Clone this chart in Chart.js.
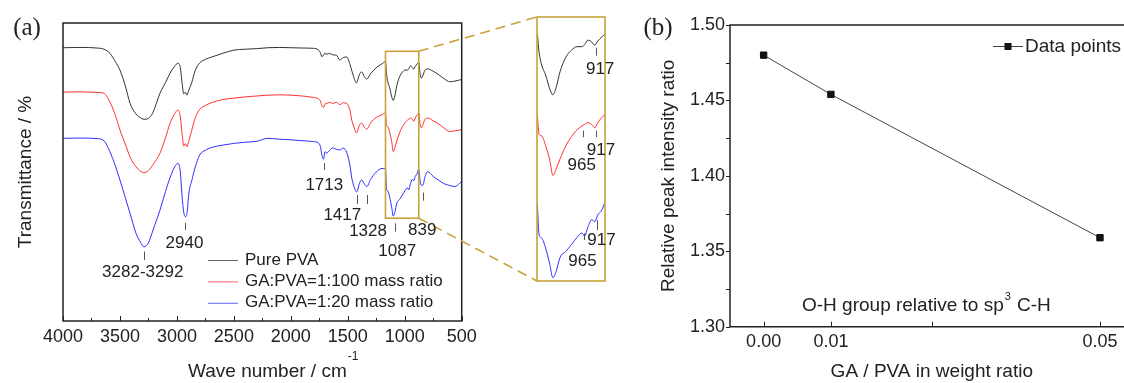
<!DOCTYPE html>
<html>
<head>
<meta charset="utf-8">
<script src="https://cdn.jsdelivr.net/npm/chart.js@4.4.0/dist/chart.umd.min.js"></script>
<style>
html, body { margin: 0; padding: 0; background: #fff; overflow: hidden; width: 1124px; height: 383px; }
canvas { position: absolute; }
#ftir { left: 0; top: 0; }
#zoom { left: 535px; top: 10px; }
#ratio { left: 620px; top: 0; }
</style>
</head>
<body>
<canvas id="ftir" width="620" height="383"></canvas>
<canvas id="zoom" width="92" height="280"></canvas>
<canvas id="ratio" width="520" height="383"></canvas>
<script>
// FTIR spectra (wave number in cm-1, transmittance in arbitrary %, curves offset)
var wavenumber = [4000, 3850, 3700, 3640, 3588, 3540, 3500, 3450, 3412, 3360,
	3320, 3290, 3250, 3210, 3149, 3100, 3061, 3020, 2991, 2970,
	2955, 2940, 2925, 2912, 2895, 2870, 2840, 2800, 2750, 2700,
	2600, 2500, 2400, 2300, 2200, 2100, 2000, 1900, 1800, 1760,
	1740, 1728, 1713, 1700, 1684, 1660, 1632, 1600, 1570, 1540,
	1509, 1480, 1465, 1440, 1425, 1417, 1400, 1377, 1355, 1333,
	1300, 1250, 1200, 1169, 1160, 1149, 1132, 1114, 1101, 1087,
	1070, 1045, 1020, 998, 976, 965, 950, 934, 921, 908,
	890, 877, 865, 853, 839, 825, 798, 750, 700, 650,
	605, 560, 518, 500];

var pureT = [91.7, 91.8, 91.6, 91.2, 89.8, 87.0, 84.2, 78.5, 73.1, 69.5,
	68.2, 67.7, 68.0, 70.0, 76.4, 80.0, 83.1, 85.5, 86.5, 85.0,
	80.0, 76.2, 76.8, 75.8, 77.5, 80.0, 84.0, 86.6, 87.8, 88.5,
	89.8, 90.9, 91.2, 91.4, 91.7, 91.8, 91.7, 91.6, 91.5, 91.0,
	90.0, 88.7, 89.2, 89.9, 89.5, 89.8, 89.3, 89.2, 87.6, 88.4,
	88.6, 86.0, 84.0, 81.0, 79.9, 80.3, 82.5, 83.6, 82.0, 81.2,
	83.0, 85.0, 86.3, 87.0, 83.0, 80.3, 78.2, 75.2, 74.0, 75.5,
	78.9, 82.0, 83.5, 84.2, 84.2, 84.6, 85.6, 85.2, 84.5, 85.4,
	86.3, 86.8, 83.0, 81.5, 82.5, 84.0, 84.6, 83.8, 82.6, 81.2,
	80.3, 80.5, 80.9, 81.0];

var ga100T = [76.8, 76.9, 76.7, 76.4, 73.5, 69.0, 64.1, 59.0, 55.1, 51.8,
	50.3, 49.8, 50.5, 52.5, 56.3, 61.5, 66.3, 69.5, 70.8, 68.5,
	63.0, 58.7, 59.5, 58.5, 60.5, 64.0, 68.0, 71.0, 72.3, 73.2,
	74.3, 74.8, 75.2, 75.5, 75.8, 75.9, 75.8, 75.5, 75.0, 74.6,
	73.8, 72.3, 71.7, 72.8, 73.0, 73.4, 73.0, 73.4, 72.6, 73.2,
	73.0, 70.5, 67.4, 64.5, 63.1, 63.4, 65.5, 66.4, 65.0, 64.4,
	66.5, 68.3, 69.2, 69.8, 65.6, 65.3, 63.2, 60.1, 56.9, 58.2,
	60.4, 63.2, 65.2, 66.5, 67.4, 67.7, 68.1, 67.7, 67.0, 68.1,
	69.2, 69.8, 66.0, 64.8, 66.0, 67.5, 68.1, 67.2, 66.1, 64.6,
	63.6, 63.8, 64.1, 64.3];

var ga20T = [61.3, 61.4, 61.2, 60.5, 56.8, 52.0, 47.3, 41.0, 36.2, 29.5,
	26.5, 24.9, 26.2, 30.5, 37.2, 43.5, 48.0, 51.7, 52.9, 50.0,
	42.0, 36.5, 35.0, 36.1, 42.9, 47.0, 51.5, 55.7, 57.3, 58.2,
	59.0, 59.6, 60.0, 60.3, 61.3, 61.0, 60.8, 60.5, 60.2, 59.8,
	58.5, 55.8, 54.3, 56.8, 56.4, 57.2, 58.1, 57.6, 57.4, 58.0,
	56.5, 52.0, 48.0, 44.5, 43.4, 43.5, 46.0, 47.3, 46.0, 45.1,
	47.5, 50.0, 51.2, 51.0, 44.3, 43.6, 41.5, 38.0, 35.2, 36.5,
	39.5, 40.8, 42.3, 43.7, 44.7, 44.0, 46.0, 47.5, 47.1, 48.5,
	49.6, 51.0, 47.0, 45.5, 45.6, 48.0, 50.1, 48.5, 47.2, 46.0,
	45.5, 45.1, 46.2, 46.8];

var seriesNames = ['Pure PVA', 'GA:PVA=1:100 mass ratio', 'GA:PVA=1:20 mass ratio'];
var waveTicks = [4000, 3750, 3500, 3250, 3000, 2750, 2500, 2250, 2000, 1750, 1500, 1250, 1000, 750, 500];

// zoomed window (cm-1 and transmittance)
var zoomWn = [877, 1169];
var zoomT = [34.5, 90.5];

// panel (b)
var gaRatio = [0, 0.01, 0.05];
var peakRatio = [1.480, 1.454, 1.359];
var ratioTicks = [0, 0.01, 0.025, 0.05];
var ratioTickLabels = ['0.00', '0.01', '', '0.05'];

// peak notes: tick from/to in transmittance, label position [wn, T]
var peakNotes = [
	{text: '3282-3292', wn: 3287, tick: [23.3, 20.5], at: [3300, 16.5]},
	{text: '2940', wn: 2930, tick: [33.0, 30.5], at: [2934, 26.1]},
	{text: '1713', wn: 1711, tick: [53.0, 50.7], at: [1706, 45.6]},
	{text: '1417', wn: 1418, tick: [42.3, 39.3], at: [1548, 35.6]},
	{text: '1328', wn: 1327, tick: [42.3, 39.3], at: [1322, 30.0]},
	{text: '1087', wn: 1082, tick: [32.8, 30.0], at: [1066, 23.3]},
	{text: '839', wn: 839, tick: [43.1, 40.4], at: [846, 30.5]}
];
var zoomNotes = [
	{text: '917', wn: 916, tick: [84.0, 82.3], at: [898, 79.5]},
	{text: '917', wn: 916, tick: [66.4, 65.0], at: [894, 62.2]},
	{text: '965', wn: 970, tick: [66.4, 65.0], at: [977, 59.0]},
	{text: '917', wn: 913, tick: [47.4, 45.3], at: [892, 43.2]},
	{text: '965', wn: 967, tick: [44.6, 43.2], at: [974, 38.6]}
];

var curveColors = ['#333333', '#ff3030', '#3030ff'];
var gold = '#c9a23a';
var INSET = {left: 537, top: 17, bottom: 281};

Chart.defaults.font.family = "'Liberation Sans', Arial, sans-serif";
Chart.defaults.color = '#222';

function spectra(){
	return [pureT, ga100T, ga20T].map(function(vals, i){
		return {
			label: seriesNames[i],
			data: wavenumber.map(function(w, j){ return {x: w, y: vals[j]}; }),
			borderColor: curveColors[i],
			borderWidth: 1,
			pointRadius: 0,
			cubicInterpolationMode: 'monotone'
		};
	});
}

function drawNotes(ctx, x, y, notes){
	ctx.strokeStyle = '#555';
	ctx.lineWidth = 1;
	ctx.fillStyle = '#222';
	ctx.font = "17px 'Liberation Sans', Arial, sans-serif";
	ctx.textAlign = 'center';
	ctx.textBaseline = 'middle';
	notes.forEach(function(n){
		if(n.tick){
			var px = Math.round(x.getPixelForValue(n.wn)) + 0.5;
			ctx.beginPath();
			ctx.moveTo(px, y.getPixelForValue(n.tick[0]));
			ctx.lineTo(px, y.getPixelForValue(n.tick[1]));
			ctx.stroke();
		}
		ctx.fillText(n.text, x.getPixelForValue(n.at[0]), y.getPixelForValue(n.at[1]));
	});
}

var ftirDecor = {
	id: 'ftirDecor',
	afterDraw: function(chart){
		var ctx = chart.ctx, a = chart.chartArea, x = chart.scales.x, y = chart.scales.y;
		ctx.save();
		ctx.strokeStyle = '#222';
		ctx.lineWidth = 1.5;
		ctx.strokeRect(a.left, a.top, a.right - a.left, a.bottom - a.top);
		ctx.lineWidth = 1;
		x.ticks.forEach(function(t){
			var px = Math.round(x.getPixelForValue(t.value)) + 0.5;
			var len = t.value % 500 === 0 ? 5 : 3;
			ctx.beginPath();
			ctx.moveTo(px, a.bottom);
			ctx.lineTo(px, a.bottom - len);
			ctx.stroke();
		});

		// zoom window and connectors
		var rx1 = x.getPixelForValue(zoomWn[1]), rx2 = x.getPixelForValue(zoomWn[0]);
		var ry1 = y.getPixelForValue(zoomT[1]), ry2 = y.getPixelForValue(zoomT[0]);
		ctx.strokeStyle = gold;
		ctx.lineWidth = 1.6;
		ctx.strokeRect(rx1, ry1, rx2 - rx1, ry2 - ry1);
		ctx.setLineDash([10, 6]);
		ctx.beginPath();
		ctx.moveTo(rx2, ry1); ctx.lineTo(INSET.left, INSET.top);
		ctx.moveTo(rx2, ry2); ctx.lineTo(INSET.left, INSET.bottom);
		ctx.stroke();
		ctx.setLineDash([]);

		drawNotes(ctx, x, y, peakNotes);

		// legend
		ctx.font = "17px 'Liberation Sans', Arial, sans-serif";
		ctx.textAlign = 'left';
		ctx.textBaseline = 'middle';
		chart.data.datasets.forEach(function(ds, i){
			var ly = 260 + i * 21.4;
			ctx.globalAlpha = 0.75;
			ctx.strokeStyle = ds.borderColor;
			ctx.lineWidth = 1;
			ctx.beginPath();
			ctx.moveTo(208, ly + 0.5);
			ctx.lineTo(238, ly + 0.5);
			ctx.stroke();
			ctx.globalAlpha = 1;
			ctx.fillStyle = '#222';
			ctx.fillText(ds.label, 245, ly);
		});

		// x title with superscript
		ctx.font = "19px 'Liberation Sans', Arial, sans-serif";
		ctx.fillText('Wave number / cm', 188, 371.5);
		var w = ctx.measureText('Wave number / cm').width;
		ctx.font = "12px 'Liberation Sans', Arial, sans-serif";
		ctx.fillText('-1', 188 + w + 1, 357);

		ctx.font = "25px 'Liberation Serif', 'Times New Roman', serif";
		ctx.textAlign = 'center';
		ctx.fillText('(a)', 27, 28);
		ctx.restore();
	}
};

var zoomDecor = {
	id: 'zoomDecor',
	afterDraw: function(chart){
		var ctx = chart.ctx, a = chart.chartArea;
		ctx.save();
		ctx.strokeStyle = gold;
		ctx.lineWidth = 1.6;
		ctx.strokeRect(a.left, a.top, a.right - a.left, a.bottom - a.top);
		drawNotes(ctx, chart.scales.x, chart.scales.y, zoomNotes);
		ctx.restore();
	}
};

var ratioDecor = {
	id: 'ratioDecor',
	afterDraw: function(chart){
		var ctx = chart.ctx, a = chart.chartArea, x = chart.scales.x, y = chart.scales.y;
		ctx.save();
		ctx.strokeStyle = '#222';
		ctx.lineWidth = 1.5;
		ctx.beginPath();
		ctx.moveTo(chart.width, a.top);
		ctx.lineTo(a.left, a.top);
		ctx.lineTo(a.left, a.bottom);
		ctx.lineTo(chart.width, a.bottom);
		ctx.stroke();
		ctx.lineWidth = 1;
		y.ticks.forEach(function(t){
			var py = Math.round(y.getPixelForValue(t.value)) + 0.5;
			ctx.beginPath();
			ctx.moveTo(a.left, py);
			ctx.lineTo(a.left - 4, py);
			ctx.stroke();
		});
		x.ticks.forEach(function(t){
			var px = Math.round(x.getPixelForValue(t.value)) + 0.5;
			ctx.beginPath();
			ctx.moveTo(px, a.bottom);
			ctx.lineTo(px, a.bottom - 5);
			ctx.stroke();
		});

		// legend
		var ds = chart.data.datasets[0];
		ctx.strokeStyle = ds.borderColor;
		ctx.beginPath();
		ctx.moveTo(373, 46.5);
		ctx.lineTo(403, 46.5);
		ctx.stroke();
		ctx.fillStyle = '#111';
		ctx.fillRect(384.5, 43, 7, 7);
		ctx.fillStyle = '#222';
		ctx.font = "19px 'Liberation Sans', Arial, sans-serif";
		ctx.textAlign = 'left';
		ctx.textBaseline = 'middle';
		ctx.fillText(ds.label, 405, 46.5);

		// note with superscript
		var s1 = 'O-H group relative to sp';
		ctx.fillText(s1, 182, 306);
		var w1 = ctx.measureText(s1).width;
		ctx.font = "11px 'Liberation Sans', Arial, sans-serif";
		ctx.fillText('3', 182 + w1 + 1, 297);
		ctx.font = "19px 'Liberation Sans', Arial, sans-serif";
		ctx.fillText(' C-H', 182 + w1 + 8, 306);

		ctx.font = "25px 'Liberation Serif', 'Times New Roman', serif";
		ctx.textAlign = 'center';
		ctx.fillText('(b)', 38, 28);
		ctx.restore();
	}
};

var hiddenGrid = {display: false, drawTicks: false, tickLength: 0};

new Chart(document.getElementById('ftir'), {
	type: 'line',
	data: {datasets: spectra()},
	options: {
		responsive: false,
		animation: false,
		layout: {padding: {left: 0, top: 23, right: 158.3, bottom: 0}},
		plugins: {legend: {display: false}, tooltip: {enabled: false}},
		scales: {
			x: {
				type: 'linear', reverse: true, min: 500, max: 4000,
				afterBuildTicks: function(s){ s.ticks = waveTicks.map(function(v){ return {value: v}; }); },
				ticks: {
					callback: function(v){ return v % 500 === 0 ? String(v) : ''; },
					autoSkip: false, maxRotation: 0, padding: 5, font: {size: 18}
				},
				grid: hiddenGrid,
				border: {display: false},
				afterFit: function(s){ s.height = 62; }
			},
			y: {
				min: 0, max: 100,
				ticks: {display: false},
				grid: hiddenGrid,
				border: {display: false},
				title: {display: true, text: 'Transmittance / %', font: {size: 19}, padding: {top: 14.4, bottom: 0}},
				afterFit: function(s){ s.width = 63; }
			}
		}
	},
	plugins: [ftirDecor]
});

new Chart(document.getElementById('zoom'), {
	type: 'line',
	data: {datasets: spectra()},
	options: {
		responsive: false,
		animation: false,
		layout: {padding: {left: 2, top: 7, right: 22, bottom: 9}},
		plugins: {legend: {display: false}, tooltip: {enabled: false}},
		scales: {
			x: {type: 'linear', reverse: true, min: zoomWn[0], max: zoomWn[1], display: false},
			y: {min: zoomT[0], max: zoomT[1], display: false}
		}
	},
	plugins: [zoomDecor]
});

new Chart(document.getElementById('ratio'), {
	type: 'line',
	data: {
		datasets: [{
			label: 'Data points',
			data: gaRatio.map(function(v, i){ return {x: v, y: peakRatio[i]}; }),
			borderColor: '#444',
			borderWidth: 1,
			pointStyle: 'rect',
			pointRadius: 4.5,
			pointBackgroundColor: '#111',
			pointBorderColor: '#111',
			pointBorderWidth: 1
		}]
	},
	options: {
		responsive: false,
		animation: false,
		layout: {padding: {left: 0, top: 25, right: 6.4, bottom: 0}},
		plugins: {legend: {display: false}, tooltip: {enabled: false}},
		scales: {
			x: {
				type: 'linear', min: -0.005, max: 0.055,
				afterBuildTicks: function(s){ s.ticks = ratioTicks.map(function(v){ return {value: v}; }); },
				ticks: {
					callback: function(v, i){ return ratioTickLabels[i]; },
					autoSkip: false, maxRotation: 0, padding: 5, font: {size: 18}
				},
				grid: hiddenGrid,
				border: {display: false},
				title: {display: true, text: 'GA / PVA in weight ratio', font: {size: 19}, padding: {top: 0, bottom: 0}},
				afterFit: function(s){ s.height = 56.3; }
			},
			y: {
				min: 1.30, max: 1.50,
				ticks: {
					stepSize: 0.025,
					callback: function(v){ return Math.round(v * 1000) % 50 === 0 ? v.toFixed(2) : ''; },
					autoSkip: false, padding: 5, font: {size: 18}
				},
				grid: hiddenGrid,
				border: {display: false},
				title: {display: true, text: 'Relative peak intensity ratio', font: {size: 19}, padding: {top: 37.6, bottom: 0}},
				afterFit: function(s){ s.width = 110; }
			}
		}
	},
	plugins: [ratioDecor]
});
</script>
</body>
</html>
